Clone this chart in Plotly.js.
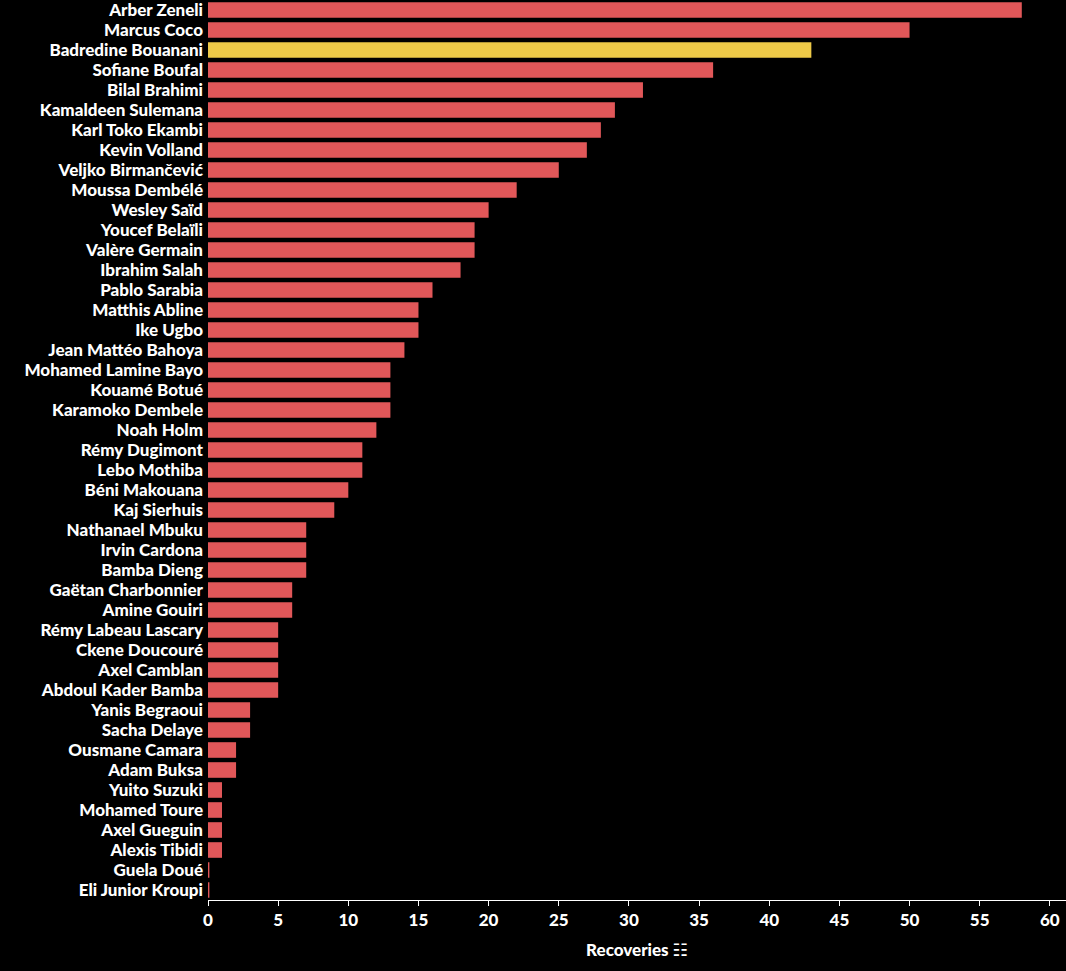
<!DOCTYPE html>
<html>
<head>
<meta charset="utf-8">
<script src="https://cdn.plot.ly/plotly-3.0.1.min.js"></script>
<style>html,body{margin:0;padding:0;background:#000;}#chart{width:1066px;height:971px;}</style>
</head>
<body>
<div id="chart"></div>
<script>
const players = ["Arber Zeneli","Marcus Coco","Badredine Bouanani","Sofiane Boufal","Bilal Brahimi","Kamaldeen Sulemana","Karl Toko Ekambi","Kevin Volland","Veljko Birmančević","Moussa Dembélé","Wesley Saïd","Youcef Belaïli","Valère Germain","Ibrahim Salah","Pablo Sarabia","Matthis Abline","Ike Ugbo","Jean Mattéo Bahoya","Mohamed Lamine Bayo","Kouamé Botué","Karamoko Dembele","Noah Holm","Rémy Dugimont","Lebo Mothiba","Béni Makouana","Kaj Sierhuis","Nathanael Mbuku","Irvin Cardona","Bamba Dieng","Gaëtan Charbonnier","Amine Gouiri","Rémy Labeau Lascary","Ckene Doucouré","Axel Camblan","Abdoul Kader Bamba","Yanis Begraoui","Sacha Delaye","Ousmane Camara","Adam Buksa","Yuito Suzuki","Mohamed Toure","Axel Gueguin","Alexis Tibidi","Guela Doué","Eli Junior Kroupi"];
const recoveries = [58,50,43,36,31,29,28,27,25,22,20,19,19,18,16,15,15,14,13,13,13,12,11,11,10,9,7,7,7,6,6,5,5,5,5,3,3,2,2,1,1,1,1,0.1,0.1];
const highlighted = "Badredine Bouanani";
const tickValues = [0,5,10,15,20,25,30,35,40,45,50,55,60];

const colors = players.map(p => p === highlighted ? "#EDC948" : "#E15759");

const trace = {
  type: "bar",
  orientation: "h",
  x: recoveries,
  y: players,
  marker: {color: colors},
  hoverinfo: "x+y"
};

const layout = {
  width: 1066, height: 971,
  paper_bgcolor: "#000", plot_bgcolor: "#000",
  margin: {l: 208, r: 0, t: 0, b: 71, pad: 0},
  bargap: 0.22,
  showlegend: false,
  font: {family: "Lato, 'DejaVu Sans', sans-serif", color: "#ffffff", size: 17, weight: 900},
  xaxis: {
    range: [0, 61.15],
    tickvals: tickValues,
    ticktext: tickValues.map(String),
    showgrid: false, zeroline: false,
    showline: true, linecolor: "#ffffff", linewidth: 1,
    ticks: "outside", ticklen: 5, tickcolor: "#ffffff", tickwidth: 1,
    tickfont: {size: 17, color: "#ffffff", weight: 900},
    title: {text: "Recoveries \u2637", font: {size: 17, color: "#ffffff", weight: 900}, standoff: 14},
    fixedrange: true
  },
  yaxis: {
    type: "category",
    autorange: "reversed",
    tickmode: "array",
    tickvals: players,
    ticktext: players,
    showgrid: false, zeroline: false, showline: false,
    ticks: "", ticklen: 0,
    tickfont: {size: 17, color: "#ffffff", weight: 900},
    ticklabelstandoff: 4,
    fixedrange: true
  }
};

Plotly.newPlot("chart", [trace], layout, {displayModeBar: false, staticPlot: true});
</script>
</body>
</html>
